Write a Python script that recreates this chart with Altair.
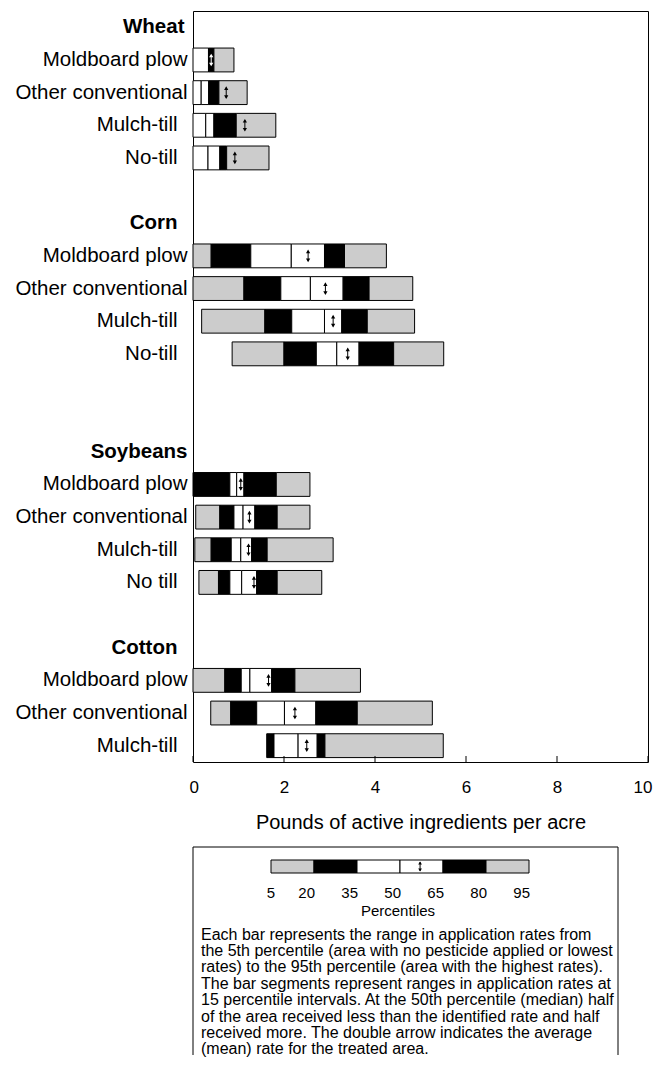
import json
import altair as alt
import pandas as pd

# ---------------- data ----------------
slot_keys = [f"{i:02d}" for i in range(23)]
slot_labels = [
    "Wheat", "Moldboard plow", "Other conventional", "Mulch-till", "No-till", "",
    "Corn", "Moldboard plow", "Other conventional", "Mulch-till", "No-till", "", "",
    "Soybeans", "Moldboard plow", "Other conventional", "Mulch-till", "No till", "",
    "Cotton", "Moldboard plow", "Other conventional", "Mulch-till",
]
header_slots = ["00", "06", "13", "19"]
# labels that sit a little further from the axis in the original
inset_slots = ["03", "04", "06", "09", "10", "16", "17", "19", "22"]
bar_slots = ["01", "02", "03", "04", "07", "08", "09", "10",
             "14", "15", "16", "17", "20", "21", "22"]

percentiles = [5, 20, 35, 50, 65, 80, 95]
segment_colors = ["#cccccc", "#000000", "#ffffff", "#ffffff", "#000000", "#cccccc"]

# p5, p20, p35, p50, p65, p80, p95 (pounds per acre)
p_values = [
    [0, 0, 0, 0, 0.34, 0.46, 0.90],          # wheat moldboard
    [0, 0, 0, 0.18, 0.345, 0.57, 1.19],      # wheat other conventional
    [0, 0, 0, 0.28, 0.46, 0.95, 1.82],       # wheat mulch-till
    [0, 0, 0, 0.33, 0.59, 0.74, 1.67],       # wheat no-till
    [0, 0.40, 1.27, 2.16, 2.89, 3.33, 4.25], # corn moldboard
    [0, 1.12, 1.93, 2.58, 3.30, 3.87, 4.83], # corn other conventional
    [0.19, 1.58, 2.17, 2.89, 3.27, 3.83, 4.87],  # corn mulch-till
    [0.86, 2.00, 2.71, 3.16, 3.65, 4.41, 5.51],  # corn no-till
    [0, 0, 0.81, 0.96, 1.12, 1.83, 2.57],    # soy moldboard
    [0.06, 0.59, 0.90, 1.10, 1.36, 1.85, 2.57],  # soy other conventional
    [0.04, 0.40, 0.84, 1.05, 1.29, 1.63, 3.08],  # soy mulch-till
    [0.13, 0.56, 0.81, 1.07, 1.40, 1.85, 2.83],  # soy no till
    [0, 0.70, 1.06, 1.25, 1.73, 2.24, 3.68], # cotton moldboard
    [0.39, 0.83, 1.40, 2.01, 2.70, 3.61, 5.26],  # cotton other conventional
    [1.62, 1.62, 1.78, 2.31, 2.73, 2.90, 5.50],  # cotton mulch-till
]
means = [0.40, 0.73, 1.14, 0.92, 2.53, 2.91, 3.08, 3.40,
         1.05, 1.24, 1.22, 1.34, 1.66, 2.24, 2.50]

x_tick_values = [0, 2, 4, 6, 8, 10]
x_title = "Pounds of active ingredients per acre"

legend_mean_pct = 57
legend_title = "Percentiles"
legend_text = [
    "Each bar represents the range in application rates from",
    "the 5th percentile (area with no pesticide applied or lowest",
    "rates) to the 95th percentile (area with the highest rates).",
    "The bar segments represent ranges in application rates at",
    "15 percentile intervals. At the 50th percentile (median) half",
    "of the area received less than the identified rate and half",
    "received more. The double arrow indicates the average",
    "(mean) rate for the treated area.",
]

# ---------------- tables ----------------
seg_rows = []
arrow_colors = []
for slot, pv, m in zip(bar_slots, p_values, means):
    ac = "black"
    for j in range(6):
        if pv[j + 1] > pv[j]:
            seg_rows.append({"slot": slot, "lo": pv[j], "hi": pv[j + 1],
                             "color": segment_colors[j]})
            if pv[j] <= m < pv[j + 1] and segment_colors[j] == "#000000":
                ac = "white"
    arrow_colors.append(ac)
seg_df = pd.DataFrame(seg_rows)
mean_df = pd.DataFrame({"slot": bar_slots, "mean": means, "ac": arrow_colors})
tick_df = pd.DataFrame({"v": x_tick_values})

FONT = "Liberation Sans"
W, H = 455, 751

x_scale = alt.Scale(domain=[0, 10], nice=False, zero=False)
y_scale = alt.Scale(domain=slot_keys, paddingInner=0.27, paddingOuter=0.135)

label_expr = f"{json.dumps(slot_labels)}[toNumber(datum.value)]"
y_axis = alt.Axis(
    title=None, ticks=False, domain=False, grid=False,
    labelExpr=label_expr, labelFontSize=20.5,
    labelPadding={
        "condition": [
            {"test": f"indexof({json.dumps(inset_slots)}, datum.value) >= 0", "value": 16},
            {"test": "datum.value == '00'", "value": 9},
        ],
        "value": 6,
    },
    labelColor="black", labelLimit=400, labelFont=FONT,
    labelFontWeight={
        "condition": {"test": f"indexof({json.dumps(header_slots)}, datum.value) >= 0",
                      "value": "bold"},
        "value": "normal",
    },
)
x_axis = alt.Axis(
    values=x_tick_values, ticks=False, domain=False, grid=False,
    labelFlush=True, labelFlushOffset=4,
    labelFontSize=17, labelPadding=17, labelColor="black", labelFont=FONT,
    title=x_title, titleFontSize=20, titleFontWeight="normal",
    titleColor="black", titleFont=FONT, titlePadding=17,
)

bars = alt.Chart(seg_df).mark_bar(stroke="black", strokeWidth=1).encode(
    x=alt.X("lo:Q", scale=x_scale, axis=x_axis),
    x2="hi:Q",
    y=alt.Y("slot:N", scale=y_scale, axis=y_axis),
    fill=alt.Fill("color:N", scale=None),
)

stem = alt.Chart(mean_df).mark_tick(size=10, thickness=1, opacity=1).encode(
    x="mean:Q", y="slot:N", color=alt.Color("ac:N", scale=None))
head_up = alt.Chart(mean_df).mark_point(shape="triangle-up", size=18, filled=True,
                                        opacity=1, yOffset=-4.5).encode(
    x="mean:Q", y="slot:N", color=alt.Color("ac:N", scale=None))
head_down = alt.Chart(mean_df).mark_point(shape="triangle-down", size=18, filled=True,
                                          opacity=1, yOffset=4.5).encode(
    x="mean:Q", y="slot:N", color=alt.Color("ac:N", scale=None))
inner_ticks = alt.Chart(tick_df).mark_rule(color="black", strokeWidth=1).encode(
    x="v:Q", y=alt.value(H - 6), y2=alt.value(H))

main = alt.layer(bars, stem, head_up, head_down, inner_ticks).properties(width=W, height=H)

# ---------------- legend ----------------
LW, LH = 425, 208
leg_seg_df = pd.DataFrame({
    "lo": percentiles[:-1], "hi": percentiles[1:], "color": segment_colors,
})
leg_lab_df = pd.DataFrame({"p": percentiles, "t": [str(p) for p in percentiles]})
lx = alt.Scale(domain=[5, 95], range=[78, 336])

leg_bars = alt.Chart(leg_seg_df).mark_bar(stroke="black", strokeWidth=1).encode(
    x=alt.X("lo:Q", scale=lx, axis=None), x2="hi:Q",
    y=alt.value(13), y2=alt.value(26),
    fill=alt.Fill("color:N", scale=None),
)
leg_mean = pd.DataFrame({"m": [legend_mean_pct]})
leg_stem = alt.Chart(leg_mean).mark_rule(color="black").encode(
    x=alt.X("m:Q", scale=lx, axis=None), y=alt.value(15), y2=alt.value(24))
leg_up = alt.Chart(leg_mean).mark_point(shape="triangle-up", size=14, filled=True,
                                        color="black", opacity=1).encode(
    x=alt.X("m:Q", scale=lx, axis=None), y=alt.value(16))
leg_down = alt.Chart(leg_mean).mark_point(shape="triangle-down", size=14, filled=True,
                                          color="black", opacity=1).encode(
    x=alt.X("m:Q", scale=lx, axis=None), y=alt.value(23))
leg_first = alt.Chart(leg_lab_df.iloc[:1]).mark_text(
    fontSize=15, font=FONT, align="center", baseline="middle", color="black").encode(
    x=alt.X("p:Q", scale=lx, axis=None), y=alt.value(46), text="t:N")
leg_nums = alt.Chart(leg_lab_df.iloc[1:]).mark_text(
    fontSize=15, font=FONT, align="right", baseline="middle", color="black", dx=1).encode(
    x=alt.X("p:Q", scale=lx, axis=None), y=alt.value(46), text="t:N")
leg_title = alt.Chart(pd.DataFrame({"p": [50], "t": [legend_title]})).mark_text(
    fontSize=15, font=FONT, align="center", baseline="middle", color="black", dx=-2).encode(
    x=alt.X("p:Q", scale=lx, axis=None), y=alt.value(64), text="t:N")
leg_para = alt.Chart(pd.DataFrame({"t": [legend_text]})).mark_text(
    fontSize=16, font=FONT, align="left", baseline="top", color="black",
    lineHeight=16.4).encode(
    x=alt.value(8), y=alt.value(79.5), text="t")
frame_l = alt.Chart(leg_mean).mark_rule(color="black").encode(
    x=alt.value(0), y=alt.value(0), y2=alt.value(LH))
frame_t = alt.Chart(leg_mean).mark_rule(color="black").encode(
    x=alt.value(0), x2=alt.value(LW), y=alt.value(0))
frame_r = alt.Chart(leg_mean).mark_rule(color="black").encode(
    x=alt.value(LW), y=alt.value(0), y2=alt.value(LH))

legend = alt.layer(leg_bars, leg_stem, leg_up, leg_down, leg_first, leg_nums,
                   leg_title, leg_para, frame_l, frame_t, frame_r).properties(
    width=LW, height=LH, view=alt.ViewBackground(stroke="transparent"))

chart = alt.vconcat(main, legend, spacing=13).properties(
    padding={"left": 6, "top": 2, "right": 0, "bottom": 2}
).configure(font=FONT).configure_view(stroke="black", strokeWidth=1)

chart.save("out.html", embed_options={"renderer": "svg", "actions": False})
